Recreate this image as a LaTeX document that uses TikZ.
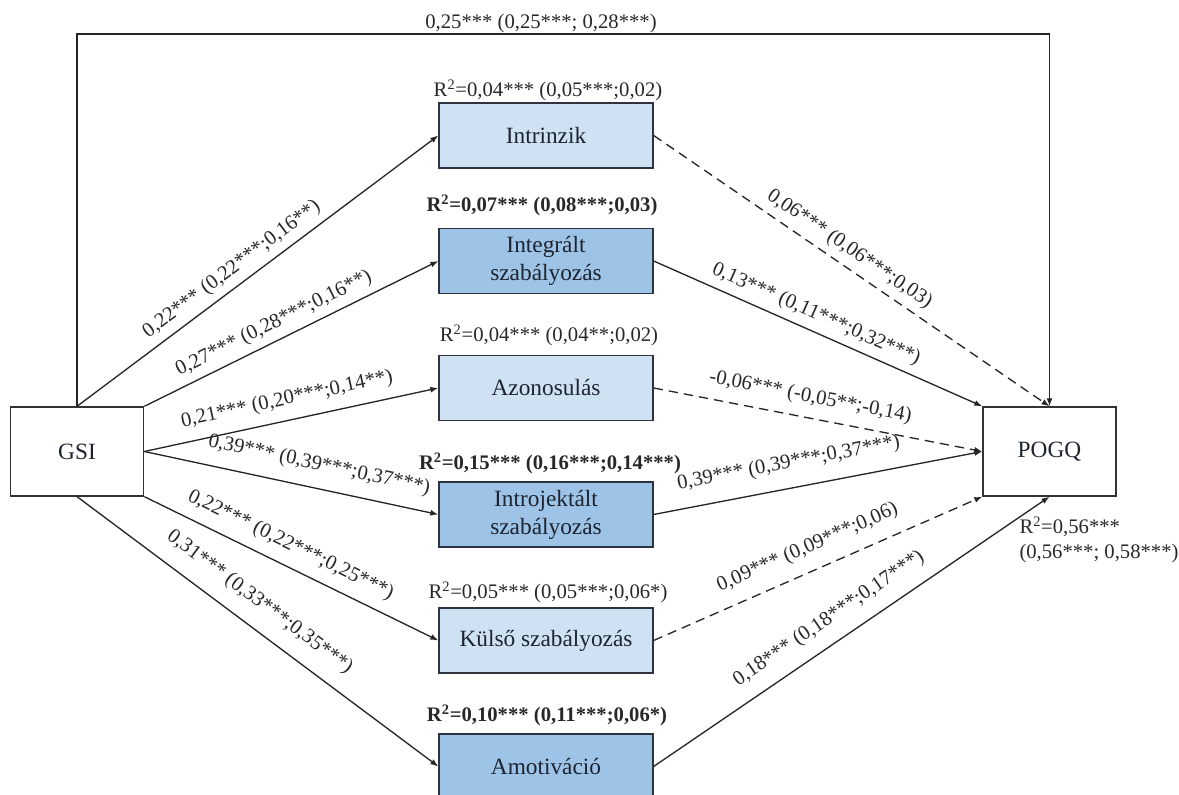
\documentclass[tikz,border=0pt]{standalone}
\usepackage{fontspec}
\setmainfont{Liberation Serif}
\usetikzlibrary{arrows.meta}

\definecolor{boxlight}{RGB}{207,226,243}
\definecolor{boxdark}{RGB}{157,195,230}
\definecolor{boxline}{RGB}{45,52,64}
\definecolor{txtcol}{RGB}{30,36,48}
\definecolor{labcol}{RGB}{40,40,40}

\tikzset{every picture/.style={line width=0.75pt}}
\tikzset{
  varbox/.style={draw=boxline, line width=1pt, minimum width=160.5pt, minimum height=48.75pt,
    inner sep=0pt, align=center, text=txtcol, font=\fontsize{17.5}{21}\selectfont},
  lightbox/.style={varbox, fill=boxlight},
  darkbox/.style={varbox, fill=boxdark},
  endbox/.style={varbox, draw=black!80, fill=white, minimum width=100pt, minimum height=66.75pt},
  arr/.style={draw=black!85, line width=1pt, -{Latex[length=6pt,width=4.5pt]}},
  darr/.style={arr, dash pattern=on 7pt off 4.5pt},
  coef/.style={sloped, above=4pt, inner sep=1pt, text=labcol, font=\fontsize{15.5}{17}\selectfont},
  rsq/.style={inner sep=0.75pt, text=labcol, font=\fontsize{15.5}{18.75}\selectfont},
}

\begin{document}
\begin{tikzpicture}[x=0.75pt,y=0.75pt]
%set diagram left start at 0, and has height of 795
\useasboundingbox (0,0) rectangle (1179,795);

%Shape: Rectangle [GSI, POGQ]
\node[endbox] (gsi) at (77,343.5) {GSI};
\node[endbox, minimum width=99.75pt] (pogq) at (1049.5,343.5) {POGQ};

%Shape: Rectangle [mediators]
\node[lightbox] (intr) at (546,659.5) {Intrinzik};
\node[darkbox] (integ) at (546,534) {Integrált\\szabályozás};
\node[lightbox] (azon) at (546,407) {Azonosulás};
\node[darkbox] (introj) at (546,280.5) {Introjektált\\szabályozás};
\node[lightbox] (kulso) at (546,154.5) {Külső szabályozás};
\node[darkbox] (amot) at (546,28.5) {Amotiváció};

% Text Node
\node[rsq] (r2intr) at (548,705) {R\textsuperscript{2}=0,04*** (0,05***;0,02)};
% Text Node
\node[rsq] (r2integ) at (542,590) {\textbf{R\textsuperscript{2}=0,07*** (0,08***;0,03)}};
% Text Node
\node[rsq] (r2azon) at (549,460) {R\textsuperscript{2}=0,04*** (0,04**;0,02)};
% Text Node
\node[rsq] (r2introj) at (550,332) {\textbf{R\textsuperscript{2}=0,15*** (0,16***;0,14***)}};
% Text Node
\node[rsq] (r2kulso) at (548,203) {R\textsuperscript{2}=0,05*** (0,05***;0,06*)};
% Text Node
\node[rsq] (r2amot) at (547,80) {\textbf{R\textsuperscript{2}=0,10*** (0,11***;0,06*)}};
% Text Node
\node[rsq, anchor=west, align=left] (r2pogq) at (1018,255) {R\textsuperscript{2}=0,56***\\(0,56***; 0,58***)};

%Straight Lines [direct path]
\coordinate (topmid) at (541,761);
\draw[arr] (gsi.north) |- (topmid) -| (pogq.north);
\node[rsq] (toplab) at (541,771) {0,25*** (0,25***; 0,28***)};

%Straight Lines [GSI to mediators]
\draw[arr] (gsi.north) -- node[coef, pos=0.456] {0,22*** (0,22***;0,16**)} (intr.west);
\draw[arr] (gsi.north east) -- node[coef, pos=0.466] {0,27*** (0,28***;0,16**)} (integ.west);
\draw[arr] (gsi.east) -- node[coef, pos=0.5, above=3pt] {0,21*** (0,20***;0,14**)} (azon.west);
\draw[arr] (gsi.east) -- node[coef, pos=0.578, above=5pt] {0,39*** (0,39***;0,37***)} (introj.west);
\draw[arr] (gsi.south east) -- node[coef, pos=0.467, above=3pt] {0,22*** (0,22***;0,25***)} (kulso.west);
\draw[arr] (gsi.south) -- node[coef, pos=0.465, above=6pt] {0,31*** (0,33***;0,35***)} (amot.west);

%Straight Lines [mediators to POGQ]
\draw[darr] (intr.east) -- node[coef, pos=0.471] {0,06*** (0,06***;0,03)} (pogq.north);
\draw[arr] (integ.east) -- node[coef, pos=0.474] {0,13*** (0,11***;0,32***)} (pogq.north west);
\draw[darr] (azon.east) -- node[coef, pos=0.465, above=3pt] {-0,06*** (-0,05**;-0,14)} (pogq.west);
\draw[arr] (introj.east) -- node[coef, pos=0.425, above=6pt] {0,39*** (0,39***;0,37***)} (pogq.west);
\draw[darr] (kulso.east) -- node[coef, pos=0.497, above=5pt] {0,09*** (0,09***;0,06)} (pogq.south west);
\draw[arr] (amot.east) -- node[coef, pos=0.476, above=5pt] {0,18*** (0,18***;0,17***)} (pogq.south);

\end{tikzpicture}
\end{document}
